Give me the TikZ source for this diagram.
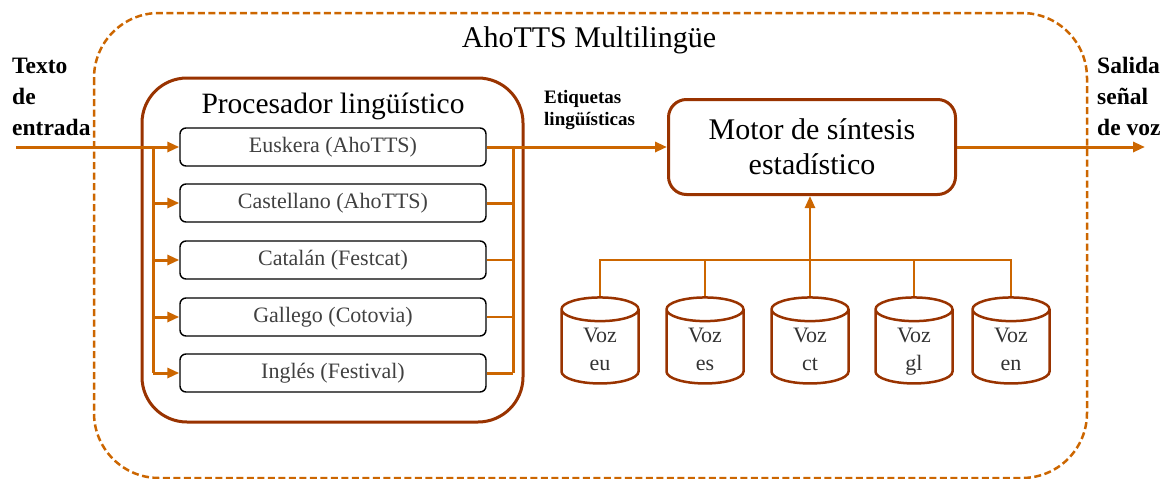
\documentclass[tikz,border=0pt]{standalone}
\usepackage{fontspec}
\setmainfont{Liberation Serif}
\usetikzlibrary{arrows.meta,shapes.geometric,positioning}
\definecolor{naranja}{RGB}{204,102,0}
\definecolor{marron}{RGB}{153,51,0}
\newcommand{\etvoz}[1]{\raisebox{-9pt}[0pt][0pt]{\begin{tabular}{@{}c@{}}Voz\\#1\end{tabular}}}

\begin{document}
\begin{tikzpicture}[x=1pt,y=-1pt,
        linea/.style={naranja,line width=3pt},
        flecha/.style={linea,-{Triangle[length=12pt,width=10pt]}},
        lengua/.style={draw=black,line width=1.4pt,rounded corners=6pt,
            minimum width=306pt,minimum height=38pt,inner sep=0pt,
            text=black!75,font=\fontsize{22}{24}\selectfont},
        voz/.style={cylinder,shape border rotate=90,aspect=0.7,draw=marron,
            line width=2.5pt,minimum width=77pt,minimum height=86pt,inner sep=0pt,
            text=black!80,font=\fontsize{22}{28}\selectfont},
        rotulo/.style={align=left,inner sep=0pt,font=\bfseries\fontsize{23.5}{31}\selectfont}]

    \useasboundingbox (0,0) rectangle (1173,479);

    % caja exterior
    \draw[naranja,line width=2.5pt,dash pattern=on 7pt off 3.5pt,rounded corners=65pt]
        (94,13) rectangle (1087,478);
    \node (titulo) at (589,40) {\fontsize{30}{32}\selectfont AhoTTS Multilingüe};

    % procesador
    \node (proc)[draw=marron,line width=3pt,rounded corners=45pt,
        minimum width=381pt,minimum height=344pt] at (332.5,250) {};
    \node (tproc) at (333,106) {\fontsize{29.5}{32}\selectfont Procesador lingüístico};

    \node (eu)[lengua] at (333,147) {Euskera (AhoTTS)};
    \node (es)[lengua] at (333,203) {Castellano (AhoTTS)};
    \node (ct)[lengua] at (333,260) {Catalán (Festcat)};
    \node (gl)[lengua] at (333,317) {Gallego (Cotovia)};
    \node (en)[lengua] at (333,373) {Inglés (Festival)};

    % motor
    \node (motor)[draw=marron,line width=3pt,rounded corners=18pt,
        minimum width=287pt,minimum height=95pt,align=center,
        font=\fontsize{30}{35}\selectfont] at (812,147) {Motor de síntesis\\estadístico};

    % voces
    \node (veu)[voz] at (600,347) {\etvoz{eu}};
    \node (ves)[voz] at (705,347) {\etvoz{es}};
    \node (vct)[voz] at (810,347) {\etvoz{ct}};
    \node (vgl)[voz] at (914,347) {\etvoz{gl}};
    \node (ven)[voz] at (1011,347) {\etvoz{en}};

    % rotulos
    \node (texto)[rotulo,anchor=west] at (12,97) {Texto\\de\\entrada};
    \node (salida)[rotulo,anchor=west] at (1097,96) {Salida\\señal\\de voz};
    \node (etiq)[align=left,inner sep=0pt,anchor=west,
        font=\bfseries\fontsize{19}{22}\selectfont] at (544,110) {Etiquetas\\lingüísticas};

    \coordinate (entrada) at (16,147);
    \coordinate (fin) at (1145,147);
    \coordinate (busizq) at (153,147);
    \coordinate (busder) at (513,147);
    \coordinate (busvoz) at (810,260);

    % conexiones
    \draw[flecha] (entrada) -- (eu.west);
    \draw[linea] (busizq) -- (busizq |- en.west);
    \draw[flecha] (busizq |- es.west) -- (es.west);
    \draw[flecha] (busizq |- ct.west) -- (ct.west);
    \draw[flecha] (busizq |- gl.west) -- (gl.west);
    \draw[flecha] (busizq |- en.west) -- (en.west);

    \draw[linea] (busder) -- (busder |- en.east);
    \draw[linea] (es.east) -- (busder |- es.east);
    \draw[linea,line width=2pt] (ct.east) -- (busder |- ct.east);
    \draw[linea,line width=1.5pt] (gl.east) -- (busder |- gl.east);
    \draw[linea] (en.east) -- (busder |- en.east);
    \draw[flecha] (eu.east) -- (motor.west);
    \draw[flecha] (motor.east) -- (fin);

    \draw[naranja,line width=2pt] (veu.north) -- (veu.north |- busvoz)
        -- (ven.north |- busvoz) -- (ven.north);
    \draw[naranja,line width=2pt] (ves.north) -- (ves.north |- busvoz);
    \draw[naranja,line width=2pt] (vgl.north) -- (vgl.north |- busvoz);
    \draw[flecha,line width=2.5pt] (vct.north) -- (vct.north |- motor.south);
\end{tikzpicture}
\end{document}
